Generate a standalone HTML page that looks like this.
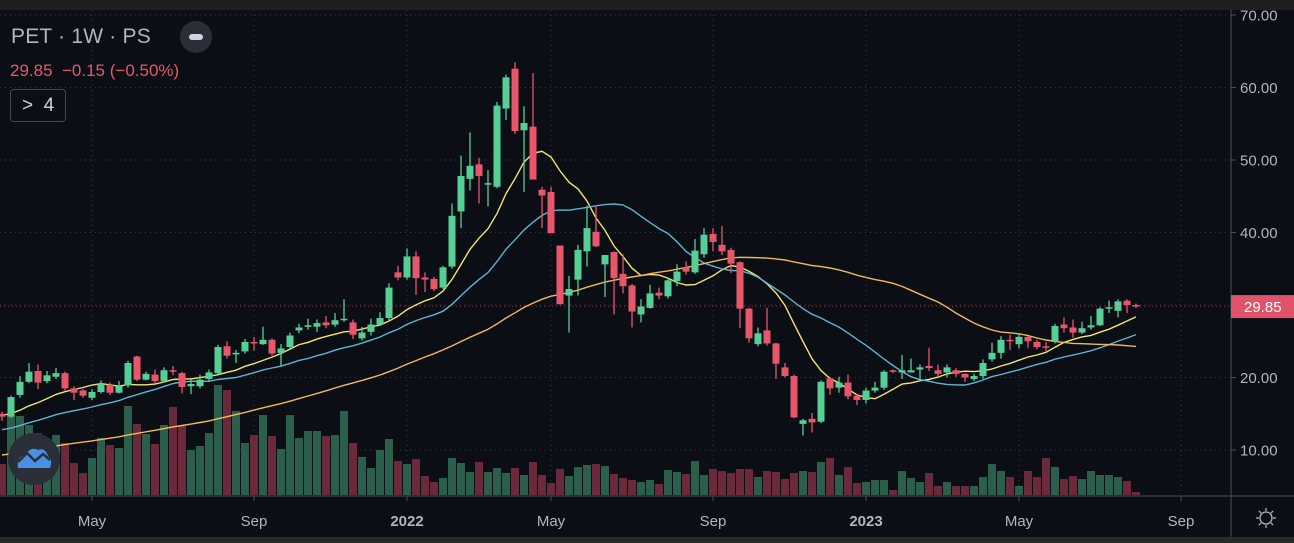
<!DOCTYPE html>
<html><head><meta charset="utf-8">
<style>
html,body{margin:0;padding:0;background:#0b0e14;}
body{width:1294px;height:543px;overflow:hidden;position:relative;font-family:"Liberation Sans",sans-serif;}
svg{position:absolute;left:0;top:0;}
.hdr{position:absolute;left:11px;top:25px;color:#b2b5be;font-size:21px;letter-spacing:0.2px;}
.quote{position:absolute;left:10px;top:61px;color:#e8566c;font-size:17px;}
.btn4{position:absolute;left:10px;top:89px;width:56px;height:33px;border:1px solid #434651;border-radius:4px;color:#d1d4dc;font-size:19px;box-sizing:border-box;line-height:31px;padding-left:11px;background:#0b0e14;}
.minus{position:absolute;left:180px;top:21px;width:32px;height:32px;border-radius:16px;background:#2a2e39;}
.minus:after{content:"";position:absolute;left:9px;top:13px;width:14px;height:6px;border-radius:3px;background:#d1d4dc;}
</style></head><body>
<svg id="chart" width="1294" height="543"></svg>
<div class="hdr">PET · 1W · PS</div>
<div class="minus"></div>
<div class="quote">29.85 &nbsp;−0.15 (−0.50%)</div>
<div class="btn4">&gt;&nbsp; 4</div>
<script>
const opens=[15.0,14.6,17.6,19.4,20.9,19.5,20.1,20.6,18.5,18.2,17.2,18.0,19.0,17.9,18.9,22.9,19.7,20.4,19.5,21.0,20.6,18.8,18.8,19.8,20.6,24.3,23.2,23.6,24.9,24.6,25.2,23.4,24.2,26.5,27.0,27.0,27.6,27.3,27.9,27.6,25.4,26.3,27.3,28.2,34.5,33.8,36.7,33.8,33.6,32.4,35.3,42.9,47.4,49.4,46.8,46.3,57.1,62.6,54.1,54.6,45.9,45.6,38.2,31.3,33.5,37.4,40.1,35.6,37.3,34.3,32.7,28.7,29.6,31.7,31.2,33.3,35.2,34.5,37.0,39.8,38.3,37.6,35.9,29.5,24.6,26.5,24.7,21.4,20.2,13.6,14.3,13.9,19.9,18.6,19.3,17.5,16.9,18.2,18.6,21.0,20.7,20.7,21.1,21.6,21.0,20.7,21.0,20.5,19.8,20.2,22.5,23.4,25.2,24.6,25.6,24.9,24.3,24.9,27.3,26.9,26.2,26.9,27.2,29.6,29.2,30.6,30.0];
const closes=[14.6,17.3,19.4,20.8,19.3,20.3,20.6,18.5,17.9,17.5,18.0,19.1,17.9,18.8,22.0,19.7,20.5,19.5,21.0,20.8,18.7,19.1,19.7,20.7,24.2,23.0,23.4,24.9,24.7,25.2,23.3,24.0,25.8,26.9,27.2,27.5,27.2,27.9,28.1,25.9,26.2,27.3,28.2,32.4,33.8,36.7,33.7,33.5,32.2,35.2,42.3,47.8,49.2,47.8,46.8,57.5,61.4,54.0,55.1,47.3,45.1,39.9,30.1,32.2,37.6,40.6,38.1,36.9,33.7,32.6,29.1,29.8,31.6,31.3,33.4,34.6,34.6,37.5,39.7,38.7,37.4,35.7,29.5,25.4,26.1,24.7,21.9,20.2,14.5,14.1,13.8,19.4,18.5,19.3,17.4,16.9,18.2,18.6,20.8,20.8,21.0,21.0,21.4,21.3,20.5,21.4,20.5,20.0,20.2,22.0,23.4,25.2,25.0,25.6,25.0,24.2,24.1,27.1,26.8,26.2,26.8,27.2,29.5,29.7,30.5,30.0,29.85];
const highs=[15.3,17.5,20.2,22.0,21.8,20.9,21.3,20.8,18.8,18.4,18.4,19.6,19.3,19.5,22.3,23.0,20.8,21.1,21.4,21.6,20.8,19.7,20.4,21.1,24.5,25.0,23.8,25.3,25.6,27.0,25.4,24.6,26.2,27.4,28.1,28.0,28.5,28.9,30.8,28.0,27.0,28.1,29.0,33.0,35.4,37.8,37.4,34.5,33.9,35.4,44.0,50.6,53.8,50.3,48.6,58.0,61.8,63.5,57.4,62.0,46.3,46.3,38.2,34.0,38.3,43.7,43.7,36.9,37.4,37.0,32.9,30.8,32.8,32.4,33.8,35.6,36.0,39.1,40.6,40.6,40.9,37.9,36.0,29.6,26.9,29.6,24.8,22.0,20.4,14.3,15.1,19.6,20.1,20.1,20.4,17.7,18.6,19.4,21.0,21.1,23.1,22.6,21.8,24.1,21.8,21.8,21.3,20.6,20.5,22.5,24.8,25.7,25.9,26.0,25.7,25.2,24.9,27.4,28.3,28.0,27.7,28.5,29.7,30.6,30.8,30.8,30.2];
const lows=[14.0,14.4,17.2,19.2,18.4,19.2,19.8,18.2,16.9,17.2,16.9,17.8,17.6,17.8,18.6,19.5,19.6,19.2,19.3,20.3,17.8,17.7,18.5,19.4,20.4,22.6,22.0,23.3,23.7,24.5,23.0,21.6,23.9,26.1,26.6,26.3,26.8,27.0,27.7,25.3,25.1,25.8,27.1,27.9,33.4,33.5,31.4,31.8,31.9,32.2,35.0,40.6,45.8,44.0,43.6,46.1,55.5,53.6,45.6,47.3,40.6,39.9,30.1,26.2,31.3,35.3,38.0,31.1,28.7,31.6,26.9,27.6,29.5,30.8,30.9,32.6,34.2,34.3,36.5,37.4,36.9,34.4,26.8,24.8,24.3,24.4,19.8,20.0,14.4,12.0,12.4,13.7,17.6,17.9,17.0,16.2,16.4,17.9,18.3,20.6,19.8,20.7,19.8,20.9,20.2,20.0,20.1,19.4,19.5,19.8,22.2,22.6,23.8,24.0,24.1,23.9,23.5,24.7,26.2,25.5,26.0,26.6,27.1,28.9,28.3,28.9,29.6];
const volumes=[31,80,79,70,62,48,60,52,32,22,37,57,50,47,89,71,61,51,70,88,69,45,49,62,110,105,84,52,60,80,59,46,80,57,64,64,59,60,84,52,38,27,45,56,34,31,36,19,13,17,37,32,23,33,23,27,22,27,20,33,20,12,26,19,28,30,31,29,21,17,15,13,15,11,25,23,21,34,20,26,24,22,26,26,18,24,23,16,22,24,23,33,37,20,28,12,13,15,15,5,24,17,13,22,9,13,9,9,9,18,31,24,18,9,24,18,37,28,16,19,16,24,20,20,18,14,3];
const priceTicks=[70,60,50,40,30,20,10];
const timeLabels=["May","Sep","2022","May","Sep","2023","May","Sep"];
const timeLabelIndex=[10,28,45,61,79,96,113,131];
const maPeriods=[10,20,50];
const maSeeds=[14.8,12.7,9.2];
const maColors=["#f2e56e","#5eb3d3","#f0b95a"];

const NS="http://www.w3.org/2000/svg";
const svg=document.getElementById('chart');
const PLOT_R=1231, BASE=495;
function y(p){return 450-(p-10)*7.25;}
function x(i){return 2+9*i;}
function vy(v){return BASE-v;}
function mk(tag,attrs,parent){const e=document.createElementNS(NS,tag);for(const k in attrs)e.setAttribute(k,attrs[k]);(parent||svg).appendChild(e);return e;}

// top and bottom strips
const topStrip=mk('rect',{x:0,y:0,width:1294,height:10,fill:'#1f1f1f'});


const botStrip=mk('rect',{x:0,y:537,width:1294,height:6,fill:'#2a2a2a'});



// grid
const grid=mk('g',{});


priceTicks.forEach(p=>{mk('line',{x1:0,x2:PLOT_R,y1:y(p),y2:y(p),stroke:'#363a45','stroke-width':1,'stroke-dasharray':'1 4'},grid);});
timeLabelIndex.forEach(i=>{mk('line',{x1:x(i),x2:x(i),y1:10,y2:BASE,stroke:'#363a45','stroke-width':1,'stroke-dasharray':'1 4'},grid);});

// volume
const vg=mk('g',{});


volumes.forEach((v,i)=>{
  const up=closes[i]>=opens[i];
  const r=mk('rect',{x:x(i)-4,y:vy(v),width:8,height:v,fill:up?'#2b5f4b':'#6b2a3b'},vg);
  
  
});

// moving averages
maPeriods.forEach((n,k)=>{
  let pts=[];
  for(let i=0;i<closes.length;i++){
    let s=0;for(let j=i-n+1;j<=i;j++){s+=j<0?maSeeds[k]:closes[j];}
    pts.push(x(i).toFixed(1)+','+y(s/n).toFixed(1));
  }
  const pl=mk('polyline',{points:pts.join(' '),fill:'none',stroke:maColors[k],'stroke-width':1.4});
  
  
});

// candles
const cg=mk('g',{});


closes.forEach((c,i)=>{
  const o=opens[i],up=c>=o,col=up?'#56cf97':'#e8566c';
  const g=mk('g',{},cg);
  
  
  mk('line',{x1:x(i),x2:x(i),y1:y(highs[i]),y2:y(lows[i]),stroke:col,'stroke-width':1.3},g);
  const top=y(Math.max(o,c)),h=Math.max(1.5,Math.abs(y(o)-y(c)));
  mk('rect',{x:x(i)-3.5,y:top,width:7,height:h,fill:col},g);
});

// axes
const ax=mk('g',{});


mk('rect',{x:PLOT_R+1,y:0,width:63,height:537,fill:'#0b0e14'},ax);
mk('rect',{x:0,y:BASE+1,width:1294,height:41,fill:'#0b0e14'},ax);
mk('rect',{x:0,y:0,width:1294,height:10,fill:'#1f1f1f'},ax);
mk('line',{x1:PLOT_R,x2:PLOT_R,y1:10,y2:537,stroke:'#4a4e58','stroke-width':1},ax);
mk('line',{x1:0,x2:1294,y1:BASE+1,y2:BASE+1,stroke:'#4a4e58','stroke-width':1},ax);
priceTicks.forEach(p=>{
  mk('line',{x1:PLOT_R,x2:PLOT_R+5,y1:y(p),y2:y(p),stroke:'#4a4e58'},ax);
  const t=mk('text',{x:1240,y:y(p)+5.5,fill:'#b2b5be','font-size':15,'font-family':'Liberation Sans, sans-serif'},ax);
  t.textContent=p.toFixed(2);
  
  
});
timeLabels.forEach((lab,k)=>{
  const xi=x(timeLabelIndex[k]);
  mk('line',{x1:xi,x2:xi,y1:BASE+1,y2:BASE+6,stroke:'#4a4e58'},ax);
  const t=mk('text',{x:xi,y:526,fill:'#b2b5be','font-size':15,'text-anchor':'middle','font-family':'Liberation Sans, sans-serif','font-weight':(lab.length===4?'bold':'normal')},ax);
  t.textContent=lab;
  
  
});
// last price label
const last=closes[closes.length-1];
mk('line',{x1:0,x2:PLOT_R,y1:y(last),y2:y(last),stroke:'#e8566c','stroke-width':1,'stroke-dasharray':'1 3',opacity:0.6},ax);
const lp=mk('g',{},ax);


mk('rect',{x:PLOT_R,y:y(last)-11,width:63,height:23,fill:'#e0536a'},lp);
const lt=mk('text',{x:1244,y:y(last)+6,fill:'#ffffff','font-size':15,'font-family':'Liberation Sans, sans-serif'},lp);
lt.textContent=last.toFixed(2);

// settings gear
const gear=mk('g',{transform:'translate(1266,518)'});


mk('circle',{cx:0,cy:0,r:6,fill:'none',stroke:'#b2b5be','stroke-width':1.3},gear);
for(let a=0;a<8;a++){const r=a*Math.PI/4;mk('line',{x1:7*Math.cos(r),y1:7*Math.sin(r),x2:10*Math.cos(r),y2:10*Math.sin(r),stroke:'#b2b5be','stroke-width':1.3},gear);}

// logo button
const logo=mk('g',{});


mk('circle',{cx:34,cy:459,r:26,fill:'#2a2e39'},logo);
mk('path',{d:'M18 468 Q16 456 26 455 Q30 446 38 450 Q45 447 48 456 Q53 460 50 468 Z',fill:'#4a90e2'},logo);
mk('polyline',{points:'18,462 27,453 35,461 43,454 50,460',fill:'none',stroke:'#2a2e39','stroke-width':2.5},logo);
</script>
</body></html>
